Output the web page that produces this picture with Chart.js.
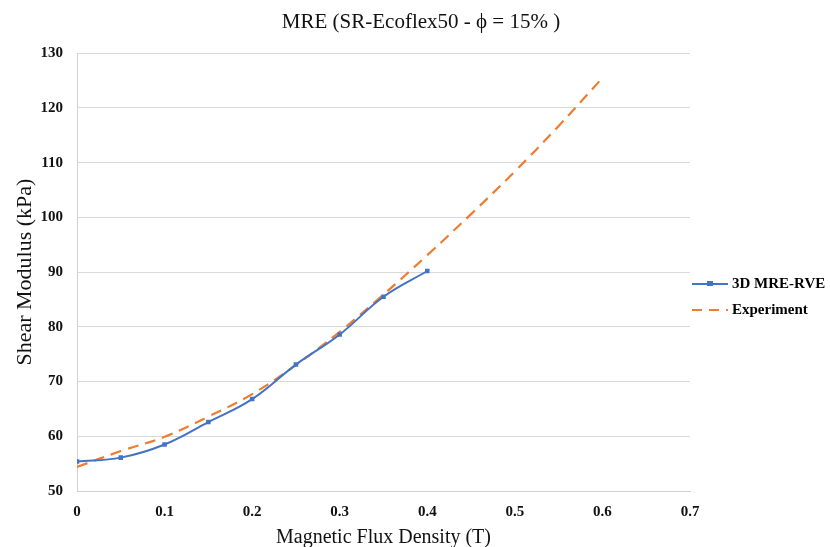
<!DOCTYPE html>
<html>
<head>
<meta charset="utf-8">
<script src="https://cdn.jsdelivr.net/npm/chart.js@4"></script>
<style>
  html, body { margin: 0; padding: 0; background: #fff; }
  #wrap { width: 830px; height: 547px; }
</style>
</head>
<body>
<div id="wrap"><canvas id="mreChart" width="830" height="547"></canvas></div>
<script>
// 시뮬레이션 (3D MRE-RVE)
const rveB = [0, 0.05, 0.1, 0.15, 0.2, 0.25, 0.3, 0.35, 0.4];
const rveG = [55.4, 56.1, 58.5, 62.6, 66.8, 73.1, 78.6, 85.5, 90.2];

// 실험값 (Experiment)
const expB = [0, 0.05, 0.1, 0.15, 0.2, 0.25, 0.3, 0.35, 0.4, 0.45, 0.5, 0.55, 0.6];
const expG = [54.4, 57.3, 59.9, 63.6, 67.7, 73.0, 79.1, 85.9, 93.1, 100.6, 108.4, 116.7, 125.5];

const xTicks = [0, 0.1, 0.2, 0.3, 0.4, 0.5, 0.6, 0.7];
const yTicks = [50, 60, 70, 80, 90, 100, 110, 120, 130];

const BLUE = '#4472C4';
const ORANGE = '#ED7D31';
const SERIF = '"Liberation Serif", "Times New Roman", serif';

function toPoints(xs, ys) {
    return xs.map(function(x, i) { return { x: x, y: ys[i] }; });
}

// 범례 직접 그리기
const sideLegend = {
    id: 'sideLegend',
    afterDraw: function(chart) {
        const ctx = chart.ctx;
        const items = [
            { label: '3D MRE-RVE', color: BLUE, dash: [], marker: true, y: 284 },
            { label: 'Experiment', color: ORANGE, dash: [10, 7], marker: false, y: 310 }
        ];
        ctx.save();
        items.forEach(function(it) {
            ctx.strokeStyle = it.color;
            ctx.lineWidth = 2;
            ctx.setLineDash(it.dash);
            ctx.beginPath();
            ctx.moveTo(692, it.y);
            ctx.lineTo(728, it.y);
            ctx.stroke();
            if (it.marker) {
                ctx.fillStyle = it.color;
                ctx.fillRect(707, it.y - 3, 6, 5);
            }
            ctx.setLineDash([]);
            ctx.fillStyle = '#000';
            ctx.font = 'bold 15px ' + SERIF;
            ctx.textBaseline = 'middle';
            ctx.textAlign = 'left';
            ctx.fillText(it.label, 732, it.y);
        });
        ctx.restore();
    }
};

new Chart(document.getElementById('mreChart'), {
    type: 'line',
    data: {
        datasets: [
            {
                label: '3D MRE-RVE',
                data: toPoints(rveB, rveG),
                borderColor: BLUE,
                backgroundColor: BLUE,
                borderWidth: 2,
                tension: 0.4,
                pointStyle: 'rect',
                pointRadius: 3.2,
                pointBorderWidth: 0,
                fill: false
            },
            {
                label: 'Experiment',
                data: toPoints(expB, expG),
                borderColor: ORANGE,
                backgroundColor: ORANGE,
                borderWidth: 2.2,
                borderDash: [11, 7],
                tension: 0.4,
                pointRadius: 0,
                fill: false
            }
        ]
    },
    options: {
        responsive: false,
        animation: false,
        layout: { padding: { top: 6, left: 12, right: 0, bottom: 0 } },
        plugins: {
            legend: { display: false },
            tooltip: { enabled: false },
            title: {
                display: true,
                text: 'MRE (SR-Ecoflex50 - \u03D5 = 15% )',
                color: '#111',
                font: { family: SERIF, size: 21, weight: 'normal' },
                padding: { top: 4, bottom: 18 }
            }
        },
        scales: {
            x: {
                type: 'linear',
                min: 0,
                max: 0.7,
                afterBuildTicks: function(scale) {
                    scale.ticks = xTicks.map(function(v) { return { value: v }; });
                },
                afterFit: function(scale) { scale.height = 56; },
                grid: { display: false },
                border: { display: true, color: '#d0d0d0', width: 1 },
                ticks: {
                    color: '#111',
                    font: { family: SERIF, size: 15, weight: 'bold' },
                    padding: 4,
                    maxRotation: 0,
                    callback: function(v) { return String(Math.round(v * 10) / 10); }
                },
                title: {
                    display: true,
                    text: 'Magnetic Flux Density (T)',
                    color: '#111',
                    font: { family: SERIF, size: 20, weight: 'normal' },
                    padding: { top: 2, bottom: -3 }
                }
            },
            y: {
                type: 'linear',
                min: 50,
                max: 130,
                afterBuildTicks: function(scale) {
                    scale.ticks = yTicks.map(function(v) { return { value: v }; });
                },
                afterFit: function(scale) { scale.width = 65; },
                grid: { color: '#d9d9d9', lineWidth: 1, drawTicks: false },
                border: { display: true, color: '#d0d0d0', width: 1 },
                ticks: {
                    color: '#111',
                    font: { family: SERIF, size: 15, weight: 'bold' },
                    padding: 14
                },
                title: {
                    display: true,
                    text: 'Shear Modulus (kPa)',
                    color: '#111',
                    font: { family: SERIF, size: 22, weight: 'normal' },
                    padding: { top: 0, bottom: 2 }
                }
            },
            // 범례 공간 확보용
            spacer: {
                type: 'linear',
                position: 'right',
                display: true,
                afterFit: function(scale) { scale.width = 140; },
                grid: { display: false },
                border: { display: false },
                ticks: { display: false },
                title: { display: false }
            }
        }
    },
    plugins: [sideLegend]
});
</script>
</body>
</html>
